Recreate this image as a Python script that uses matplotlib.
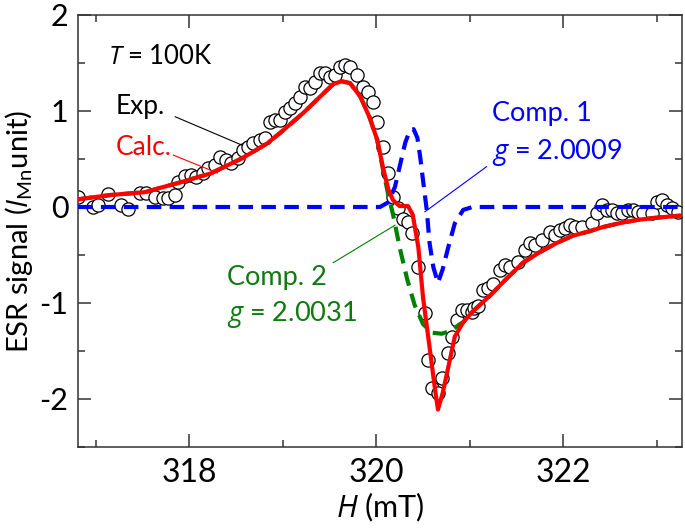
import matplotlib
matplotlib.use("Agg")
import matplotlib.pyplot as plt
from matplotlib.ticker import MultipleLocator

# Experimental points (mT, I_Mn unit)
exp_h = [316.81, 316.97, 317.02, 317.13, 317.27, 317.34, 317.47, 317.54, 317.63, 317.72,
         317.77, 317.85, 317.88, 317.95, 318.02, 318.07, 318.15, 318.20, 318.28, 318.33,
         318.39, 318.45, 318.52, 318.57, 318.63, 318.68, 318.76, 318.81, 318.86, 318.92,
         318.97, 319.02, 319.08, 319.13, 319.18, 319.24, 319.29, 319.34, 319.40, 319.45,
         319.51, 319.56, 319.61, 319.67, 319.72, 319.79, 319.86, 319.91, 319.97, 320.01,
         320.07, 320.13, 320.18, 320.23, 320.29, 320.34, 320.38, 320.45, 320.52, 320.55,
         320.60, 320.66, 320.70, 320.77, 320.81, 320.86, 320.92, 320.97, 321.02, 321.05,
         321.09, 321.14, 321.19, 321.25, 321.32, 321.38, 321.43, 321.52, 321.59, 321.64,
         321.70, 321.77, 321.86, 321.91, 321.96, 322.02, 322.07, 322.13, 322.20, 322.31,
         322.36, 322.41, 322.47, 322.52, 322.57, 322.63, 322.69, 322.75, 322.80, 322.85,
         322.95, 323.00, 323.06, 323.11, 323.16, 323.23]
exp_sig = [0.10, 0.00, 0.02, 0.14, 0.02, -0.02, 0.15, 0.15, 0.10, 0.09,
           0.09, 0.12, 0.26, 0.32, 0.33, 0.31, 0.35, 0.41, 0.44, 0.52,
           0.49, 0.46, 0.51, 0.59, 0.63, 0.67, 0.70, 0.72, 0.89, 0.91,
           0.91, 0.99, 1.03, 1.08, 1.15, 1.25, 1.24, 1.30, 1.40, 1.40,
           1.35, 1.38, 1.46, 1.48, 1.46, 1.38, 1.25, 1.20, 1.09, 0.89,
           0.63, 0.35, 0.10, -0.01, -0.12, -0.16, -0.27, -0.63, -1.10, -1.59,
           -1.89, -1.94, -1.78, -1.52, -1.35, -1.18, -1.07, -1.07, -1.09, -1.05,
           -1.03, -0.86, -0.84, -0.80, -0.66, -0.60, -0.62, -0.57, -0.45, -0.38,
           -0.40, -0.34, -0.26, -0.29, -0.24, -0.22, -0.19, -0.21, -0.21, -0.17,
           -0.06, 0.02, -0.03, -0.03, -0.06, -0.06, -0.03, -0.03, -0.05, -0.06,
           -0.06, 0.05, 0.07, 0.02, -0.01, -0.05]

# Calculated total
calc_h = [316.81, 317.16, 317.53, 317.69, 317.88, 318.23, 318.57, 318.83, 318.97, 319.22,
          319.40, 319.54, 319.63, 319.72, 319.83, 319.93, 320.01, 320.07, 320.13, 320.18,
          320.25, 320.34, 320.39, 320.45, 320.50, 320.57, 320.63, 320.66, 320.71, 320.77,
          320.84, 320.93, 321.03, 321.22, 321.40, 321.57, 321.75, 321.93, 322.10, 322.29,
          322.42, 322.61, 322.79, 322.96, 323.25]
calc_sig = [0.08, 0.125, 0.155, 0.20, 0.25, 0.35, 0.51, 0.66, 0.77, 0.98,
            1.15, 1.28, 1.31, 1.29, 1.15, 0.93, 0.70, 0.42, 0.18, 0.07,
            0.01, 0.01, -0.08, -0.42, -0.94, -1.46, -1.91, -2.11, -1.94, -1.67,
            -1.35, -1.20, -1.09, -0.92, -0.74, -0.58, -0.47, -0.375, -0.30, -0.25,
            -0.21, -0.167, -0.135, -0.115, -0.09]

# Component 1 (g = 2.0009)
comp1_h = [316.81, 319.50, 320.04, 320.13, 320.20, 320.25, 320.31, 320.36, 320.40, 320.44,
           320.47, 320.50, 320.54, 320.57, 320.61, 320.66, 320.71, 320.77, 320.84, 320.93,
           321.03, 323.27]
comp1_sig = [0.0, 0.0, 0.0, 0.05, 0.21, 0.42, 0.67, 0.80, 0.81, 0.72,
             0.52, 0.28, -0.03, -0.375, -0.625, -0.79, -0.65, -0.42, -0.17, -0.03,
             0.0, 0.0]

# Component 2 (g = 2.0031)
comp2_h = [316.81, 317.16, 317.53, 317.69, 317.88, 318.23, 318.57, 318.83, 318.97, 319.22,
           319.40, 319.54, 319.63, 319.72, 319.83, 319.93, 320.01, 320.07, 320.13, 320.18,
           320.25, 320.33, 320.41, 320.50, 320.60, 320.70, 320.80, 320.88, 320.93, 321.03,
           321.22, 321.40, 321.57, 321.75, 321.93, 322.10, 322.29, 322.42, 322.61, 322.79,
           322.96, 323.25]
comp2_sig = [0.08, 0.125, 0.155, 0.20, 0.25, 0.35, 0.51, 0.66, 0.77, 0.98,
             1.15, 1.28, 1.31, 1.29, 1.15, 0.93, 0.70, 0.40, 0.12, -0.08,
             -0.42, -0.75, -1.02, -1.22, -1.31, -1.32, -1.29, -1.23, -1.20, -1.09,
             -0.92, -0.74, -0.58, -0.47, -0.375, -0.30, -0.25, -0.21, -0.167, -0.135,
             -0.115, -0.09]

plt.rcParams['font.family'] = ['Lato', 'DejaVu Sans']
plt.rcParams['mathtext.fontset'] = 'custom'
plt.rcParams['mathtext.rm'] = 'Lato'
plt.rcParams['mathtext.it'] = 'Open Sans:italic'
plt.rcParams['axes.unicode_minus'] = False

fig = plt.figure(figsize=(6.85, 5.31), dpi=100)
ax = fig.add_axes([78 / 685, 1 - 447 / 531, 604 / 685, 432 / 531])

ax.plot(exp_h, exp_sig, 'o', ms=9.5, mfc='white', mec='black', mew=0.9, zorder=2)
ax.plot(comp2_h, comp2_sig, color='#008000', lw=3, dashes=(3.5, 2), zorder=3)
ax.plot(comp1_h, comp1_sig, color='#0000ff', lw=3, dashes=(3.5, 2), zorder=4)
ax.plot(calc_h, calc_sig, color='#ff0000', lw=3, zorder=5)

ax.set_xlim(316.81, 323.27)
ax.set_ylim(-2.5, 2)
ax.xaxis.set_major_locator(MultipleLocator(2))
ax.xaxis.set_minor_locator(MultipleLocator(1))
ax.yaxis.set_major_locator(MultipleLocator(1))
ax.yaxis.set_minor_locator(MultipleLocator(0.5))
ax.tick_params(which='both', direction='in', top=True, right=True, width=1.1, color='#333333')
ax.tick_params(which='major', length=9.5)
ax.tick_params(which='minor', length=5)
ax.tick_params(axis='x', labelsize=23, pad=8)
ax.tick_params(axis='y', labelsize=22, pad=7)
for sp in ax.spines.values():
    sp.set_linewidth(1.1)
    sp.set_color('#333333')

ax.set_xlabel(r'$H$ (mT)', fontsize=22, labelpad=2)
ax.set_ylabel(r'ESR signal ($I_{\rm Mn}$unit)', fontsize=21, labelpad=3)

# Labels and leader lines
ax.text(317.13, 1.57, r'$T$ = 100K', fontsize=18.5, ha='left', va='center')
ax.text(317.21, 1.05, 'Exp.', fontsize=19, ha='left', va='center', color='black')
ax.text(317.21, 0.62, 'Calc.', fontsize=19, ha='left', va='center', color='#ff0000')
ax.plot([317.85, 318.56], [0.94, 0.646], color='black', lw=0.8)
ax.plot([317.83, 318.30], [0.54, 0.355], color='#ff0000', lw=0.8)

ax.text(321.24, 0.97, 'Comp. 1', fontsize=19.5, ha='left', va='center', color='#0000ff')
ax.text(321.24, 0.57, r'$g$ = 2.0009', fontsize=19.5, ha='left', va='center', color='#0000ff')
ax.plot([321.18, 320.52], [0.42, -0.05], color='#0000ff', lw=0.8)

ax.text(318.40, -0.73, 'Comp. 2', fontsize=19.5, ha='left', va='center', color='#107a10')
ax.text(318.40, -1.125, r'$g$ = 2.0031', fontsize=19.5, ha='left', va='center', color='#107a10')
ax.plot([319.54, 320.20], [-0.58, -0.19], color='#008000', lw=0.8)

fig.savefig('out.png', dpi=100)
